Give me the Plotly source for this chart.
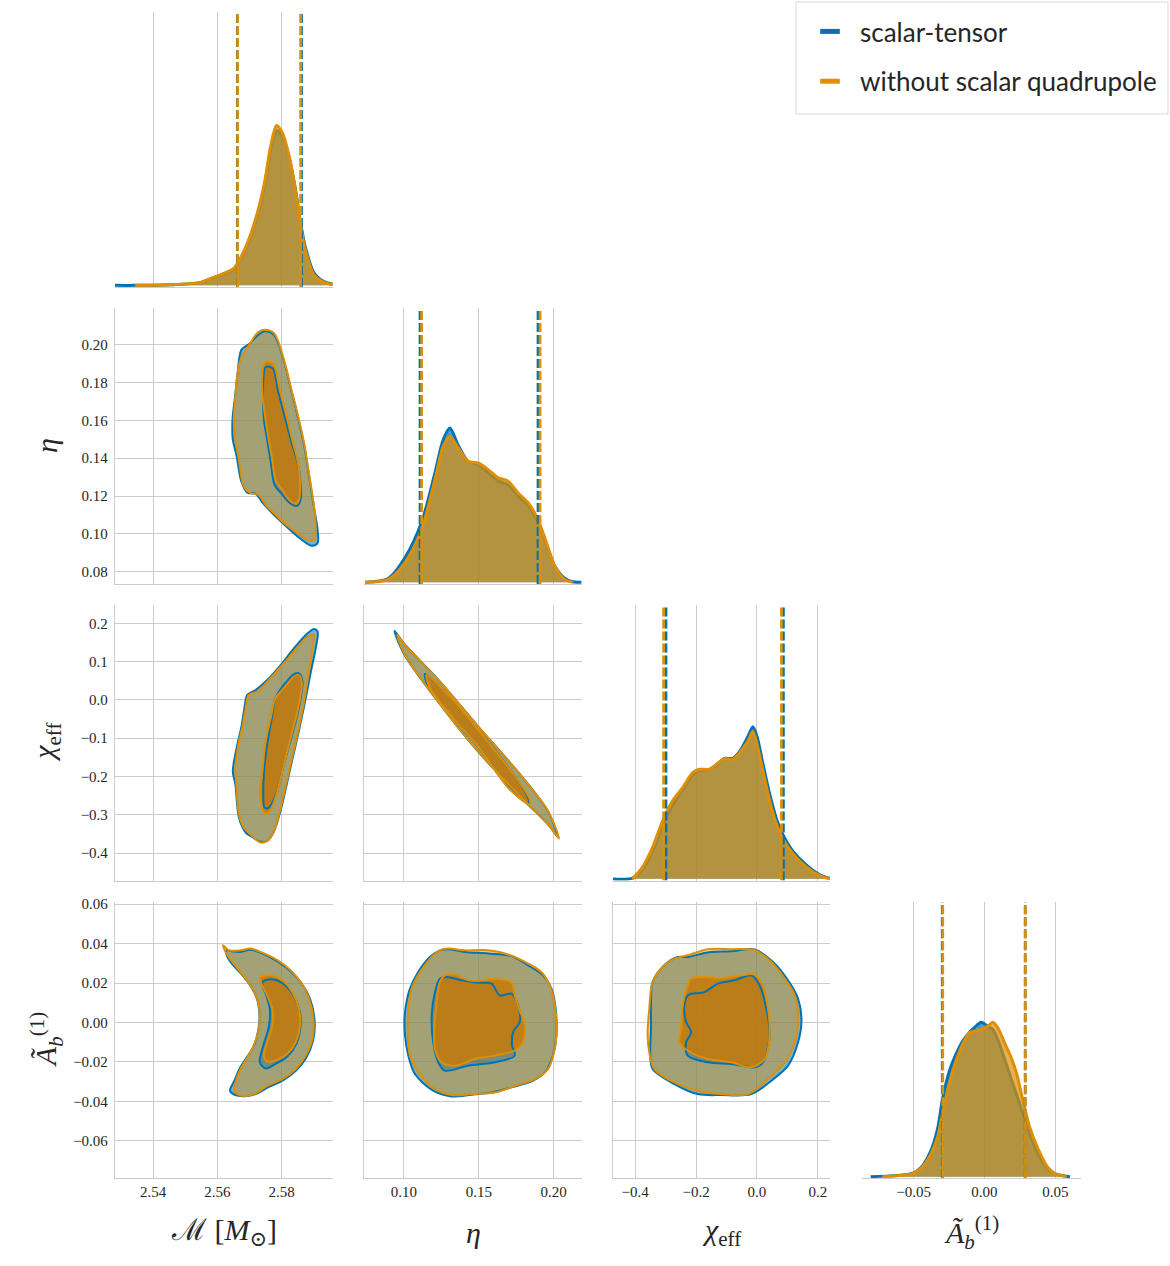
import plotly.graph_objects as go

BLUE = "#0173B2"
ORANGE = "#DE8F05"
SERIES = ["scalar-tensor", "without scalar quadrupole"]

# ---------------- tick labels ----------------
M_ticks = [2.54, 2.56, 2.58]
M_ticktext = ["2.54", "2.56", "2.58"]
eta_ticks_x = [0.10, 0.15, 0.20]
eta_ticktext_x = ["0.10", "0.15", "0.20"]
eta_ticks_y = [0.08, 0.10, 0.12, 0.14, 0.16, 0.18, 0.20]
eta_ticktext_y = ["0.08", "0.10", "0.12", "0.14", "0.16", "0.18", "0.20"]
chi_ticks_x = [-0.4, -0.2, 0.0, 0.2]
chi_ticktext_x = ["\u22120.4", "\u22120.2", "0.0", "0.2"]
chi_ticks_y = [-0.4, -0.3, -0.2, -0.1, 0.0, 0.1, 0.2]
chi_ticktext_y = ["\u22120.4", "\u22120.3", "\u22120.2", "\u22120.1", "0.0", "0.1", "0.2"]
A_ticks_x = [-0.05, 0.0, 0.05]
A_ticktext_x = ["\u22120.05", "0.00", "0.05"]
A_ticks_y = [-0.06, -0.04, -0.02, 0.0, 0.02, 0.04, 0.06]
A_ticktext_y = ["\u22120.06", "\u22120.04", "\u22120.02", "0.00", "0.02", "0.04", "0.06"]

# ---------------- 1D marginal densities (normalised) ----------------
M_x_st = [2.5281, 2.5344, 2.5450, 2.5547, 2.5578, 2.5620, 2.5651, 2.5682, 2.5713, 2.5745, 2.5766,
          2.5784, 2.5802, 2.5823, 2.5844, 2.5859, 2.5875, 2.5901, 2.5932, 2.5960]
M_d_st = [0.000, 0.000, 0.002, 0.010, 0.024, 0.042, 0.060, 0.120, 0.214, 0.355, 0.495,
          0.565, 0.548, 0.470, 0.345, 0.228, 0.135, 0.045, 0.014, 0.004]
M_x_nq = [2.5344, 2.5450, 2.5547, 2.5578, 2.5620, 2.5651, 2.5682, 2.5713, 2.5745, 2.5766,
          2.5784, 2.5802, 2.5823, 2.5844, 2.5859, 2.5875, 2.5901, 2.5932, 2.5960]
M_d_nq = [0.000, 0.002, 0.011, 0.025, 0.044, 0.062, 0.124, 0.219, 0.365, 0.510,
          0.585, 0.559, 0.474, 0.342, 0.219, 0.124, 0.037, 0.011, 0.003]

eta_x_st = [0.0740, 0.0895, 0.1007, 0.1118, 0.1207, 0.1262, 0.1307, 0.1362, 0.1429, 0.1495, 0.1562,
            0.1629, 0.1695, 0.1762, 0.1829, 0.1895, 0.1951, 0.2007, 0.2073, 0.2129, 0.2185]
eta_d_st = [0.000, 0.014, 0.090, 0.220, 0.400, 0.520, 0.563, 0.500, 0.440, 0.430, 0.400,
            0.370, 0.355, 0.315, 0.280, 0.220, 0.140, 0.060, 0.015, 0.002, 0.000]
eta_x_nq = [0.0740, 0.0895, 0.1007, 0.1118, 0.1207, 0.1262, 0.1307, 0.1362, 0.1429, 0.1495, 0.1562,
            0.1629, 0.1695, 0.1762, 0.1829, 0.1895, 0.1951, 0.2007, 0.2073, 0.2129]
eta_d_nq = [0.000, 0.011, 0.072, 0.193, 0.375, 0.496, 0.532, 0.490, 0.441, 0.435, 0.411,
            0.381, 0.369, 0.326, 0.290, 0.229, 0.145, 0.059, 0.011, 0.000]

chi_x_st = [-0.4748, -0.4089, -0.3759, -0.3430, -0.3100, -0.2770, -0.2441, -0.2111, -0.1890, -0.1560,
            -0.1340, -0.1066, -0.0792, -0.0570, -0.0297, -0.0133, 0.0002, 0.0197, 0.0418, 0.0639,
            0.0857, 0.1186, 0.1628, 0.2067, 0.2396]
chi_d_st = [0.000, 0.003, 0.035, 0.100, 0.195, 0.270, 0.325, 0.380, 0.395, 0.400,
            0.415, 0.440, 0.440, 0.465, 0.520, 0.555, 0.520, 0.420, 0.310, 0.220,
            0.160, 0.100, 0.050, 0.015, 0.002]
chi_x_nq = [-0.4089, -0.3759, -0.3430, -0.3100, -0.2770, -0.2441, -0.2111, -0.1890, -0.1560,
            -0.1340, -0.1066, -0.0792, -0.0570, -0.0297, -0.0133, 0.0002, 0.0197, 0.0418, 0.0639,
            0.0857, 0.1186, 0.1628, 0.2067, 0.2396]
chi_d_nq = [0.000, 0.043, 0.115, 0.212, 0.285, 0.333, 0.388, 0.400, 0.400,
            0.418, 0.439, 0.436, 0.461, 0.503, 0.539, 0.491, 0.394, 0.285, 0.200,
            0.145, 0.091, 0.043, 0.012, 0.000]

A_x_st = [-0.0803, -0.0508, -0.0449, -0.0378, -0.0331, -0.0296, -0.0248, -0.0201, -0.0154, -0.0106,
          -0.0071, -0.0023, 0.0023, 0.0059, 0.0094, 0.0142, 0.0189, 0.0225, 0.0272, 0.0319,
          0.0378, 0.0437, 0.0496, 0.0603]
A_d_st = [0.000, 0.012, 0.032, 0.095, 0.174, 0.283, 0.384, 0.446, 0.493, 0.525,
          0.543, 0.562, 0.547, 0.536, 0.500, 0.428, 0.355, 0.301, 0.228, 0.156,
          0.083, 0.036, 0.011, 0.000]
A_x_nq = [-0.0721, -0.0508, -0.0449, -0.0378, -0.0331, -0.0296, -0.0248, -0.0201, -0.0154, -0.0106,
          -0.0071, -0.0023, 0.0023, 0.0059, 0.0094, 0.0142, 0.0189, 0.0225, 0.0272, 0.0319,
          0.0378, 0.0437, 0.0496, 0.0579]
A_d_nq = [0.000, 0.011, 0.029, 0.083, 0.144, 0.228, 0.337, 0.421, 0.482, 0.524,
          0.530, 0.536, 0.548, 0.562, 0.542, 0.487, 0.433, 0.379, 0.276, 0.180,
          0.101, 0.041, 0.011, 0.001]

# 90% credible bounds (dashed lines)
M_q_st = [2.5662, 2.5862]
M_q_nq = [2.5663, 2.5859]
eta_q_st = [0.1107, 0.1895]
eta_q_nq = [0.1118, 0.1909]
chi_q_st = [-0.2988, 0.0870]
chi_q_nq = [-0.3067, 0.0804]
A_q_st = [-0.0298, 0.0287]
A_q_nq = [-0.0294, 0.0289]

# ---------------- 2D credible contours (outer / inner) ----------------
# M vs eta
Meta_out_st_x = [2.5745, 2.5776, 2.5807, 2.5828, 2.5849, 2.5870, 2.5885, 2.5901, 2.5912, 2.5912, 2.5894, 2.5859, 2.5813,
                 2.5776, 2.5741, 2.5719, 2.5694, 2.5675, 2.5659, 2.5648, 2.5647, 2.5655, 2.5663, 2.5675, 2.5700, 2.5724]
Meta_out_st_y = [0.2070, 0.2053, 0.1915, 0.1773, 0.1630, 0.1471, 0.1312, 0.1138, 0.1021, 0.0952, 0.0937, 0.0974, 0.1042,
                 0.1101, 0.1164, 0.1212, 0.1217, 0.1275, 0.1418, 0.1497, 0.1603, 0.1727, 0.1852, 0.1974, 0.2005, 0.2048]
Meta_out_nq_x = [2.5745, 2.5776, 2.5807, 2.5828, 2.5849, 2.5870, 2.5885, 2.5901, 2.5906, 2.5901, 2.5885, 2.5849, 2.5807,
                 2.5776, 2.5750, 2.5729, 2.5703, 2.5682, 2.5667, 2.5656, 2.5651, 2.5656, 2.5663, 2.5672, 2.5703, 2.5724]
Meta_out_nq_y = [0.2079, 0.2062, 0.1921, 0.1779, 0.1639, 0.1480, 0.1321, 0.1144, 0.1039, 0.0968, 0.0965, 0.1004, 0.1057,
                 0.1110, 0.1153, 0.1206, 0.1215, 0.1250, 0.1392, 0.1497, 0.1603, 0.1727, 0.1850, 0.1921, 0.2009, 0.2062]
Meta_in_st_x = [2.5756, 2.5773, 2.5788, 2.5809, 2.5831, 2.5850, 2.5859, 2.5859, 2.5849, 2.5825, 2.5800, 2.5778, 2.5766,
                2.5755, 2.5745, 2.5742, 2.5744, 2.5748]
Meta_in_st_y = [0.1885, 0.1873, 0.1762, 0.1624, 0.1482, 0.1376, 0.1270, 0.1180, 0.1148, 0.1164, 0.1212, 0.1259, 0.1381,
                0.1497, 0.1603, 0.1746, 0.1841, 0.1878]
Meta_in_nq_x = [2.5755, 2.5776, 2.5792, 2.5813, 2.5833, 2.5849, 2.5857, 2.5854, 2.5844, 2.5823, 2.5802, 2.5781, 2.5771,
                2.5760, 2.5750, 2.5740, 2.5740, 2.5745]
Meta_in_nq_y = [0.1912, 0.1894, 0.1779, 0.1639, 0.1497, 0.1392, 0.1286, 0.1180, 0.1159, 0.1180, 0.1233, 0.1286, 0.1392,
                0.1497, 0.1603, 0.1744, 0.1850, 0.1900]

# M vs chi_eff
Mchi_out_st_x = [2.5912, 2.5906, 2.5891, 2.5873, 2.5851, 2.5825, 2.5799, 2.5776, 2.5755, 2.5732, 2.5708, 2.5688, 2.5667,
                 2.5656, 2.5648, 2.5662, 2.5674, 2.5684, 2.5693, 2.5719, 2.5755, 2.5797, 2.5838, 2.5880, 2.5901]
Mchi_out_st_y = [0.1790, 0.1343, 0.0735, -0.0044, -0.0909, -0.1862, -0.2813, -0.3436, -0.3681, -0.3696, -0.3577, -0.3462,
                 -0.3073, -0.2208, -0.1862, -0.1169, -0.0735, -0.0216, 0.0130, 0.0260, 0.0519, 0.0909, 0.1343, 0.1732, 0.1850]
Mchi_out_nq_x = [2.5901, 2.5896, 2.5885, 2.5870, 2.5849, 2.5823, 2.5797, 2.5776, 2.5755, 2.5734, 2.5713, 2.5682, 2.5667,
                 2.5659, 2.5656, 2.5667, 2.5677, 2.5688, 2.5698, 2.5724, 2.5755, 2.5797, 2.5838, 2.5875, 2.5896]
Mchi_out_nq_y = [0.1688, 0.1343, 0.0735, -0.0044, -0.0909, -0.1862, -0.2813, -0.3421, -0.3681, -0.3722, -0.3592, -0.3332,
                 -0.2987, -0.2208, -0.1774, -0.1083, -0.0735, -0.0216, 0.0130, 0.0216, 0.0475, 0.0865, 0.1255, 0.1603, 0.1706]
Mchi_in_st_x = [2.5854, 2.5865, 2.5851, 2.5830, 2.5807, 2.5783, 2.5760, 2.5747, 2.5743, 2.5747, 2.5758, 2.5771, 2.5781,
                2.5807, 2.5838]
Mchi_in_st_y = [0.0693, 0.0475, -0.0304, -0.0995, -0.1688, -0.2468, -0.2813, -0.2813, -0.2382, -0.1688, -0.0995, -0.0390,
                0.0044, 0.0390, 0.0667]
Mchi_in_nq_x = [2.5854, 2.5863, 2.5849, 2.5828, 2.5807, 2.5781, 2.5760, 2.5745, 2.5734, 2.5740, 2.5750, 2.5766, 2.5781,
                2.5807, 2.5838]
Mchi_in_nq_y = [0.0649, 0.0434, -0.0304, -0.0995, -0.1688, -0.2553, -0.2943, -0.2943, -0.2468, -0.1862, -0.1083, -0.0475,
                0.0044, 0.0304, 0.0605]

# eta vs chi_eff
etachi_out_st_x = [0.0937, 0.1007, 0.1229, 0.1495, 0.1785, 0.1962, 0.2025, 0.1962, 0.1785, 0.1495, 0.1229, 0.1000]
etachi_out_st_y = [0.1800, 0.1440, 0.0530, -0.0690, -0.1990, -0.2910, -0.3560, -0.3250, -0.2560, -0.1350, -0.0050, 0.1200]
etachi_out_nq_x = [0.0955, 0.1007, 0.1229, 0.1495, 0.1785, 0.1962, 0.2035, 0.1962, 0.1785, 0.1495, 0.1229, 0.1007]
etachi_out_nq_y = [0.1700, 0.1429, 0.0519, -0.0694, -0.1992, -0.2901, -0.3620, -0.3247, -0.2553, -0.1343, -0.0044, 0.1169]
etachi_in_st_x = [0.1140, 0.1340, 0.1495, 0.1707, 0.1830, 0.1830, 0.1707, 0.1495, 0.1340, 0.1165]
etachi_in_st_y = [0.0680, -0.0040, -0.0770, -0.1810, -0.2570, -0.2700, -0.2330, -0.1220, -0.0530, 0.0320]
etachi_in_nq_x = [0.1151, 0.1340, 0.1495, 0.1707, 0.1840, 0.1840, 0.1707, 0.1495, 0.1340, 0.1173]
etachi_in_nq_y = [0.0649, -0.0052, -0.0779, -0.1818, -0.2597, -0.2727, -0.2338, -0.1213, -0.0519, 0.0312]

# M vs A_b
MA_out_st_x = [2.5628, 2.5647, 2.5672, 2.5703, 2.5734, 2.5787, 2.5828, 2.5861, 2.5889, 2.5903, 2.5898, 2.5877, 2.5845,
               2.5803, 2.5755, 2.5722, 2.5682, 2.5647, 2.5639, 2.5653, 2.5669, 2.5691, 2.5713, 2.5728, 2.5731, 2.5723,
               2.5702, 2.5670, 2.5644, 2.5630]
MA_out_st_y = [0.0366, 0.0361, 0.0358, 0.0369, 0.0354, 0.0310, 0.0260, 0.0201, 0.0117, 0.0002, -0.0092, -0.0178, -0.0244,
               -0.0295, -0.0331, -0.0361, -0.0374, -0.0361, -0.0344, -0.0295, -0.0234, -0.0178, -0.0120, -0.0032, 0.0036,
               0.0121, 0.0188, 0.0254, 0.0300, 0.0336]
MA_out_nq_x = [2.5618, 2.5635, 2.5672, 2.5703, 2.5734, 2.5787, 2.5828, 2.5859, 2.5885, 2.5899, 2.5896, 2.5875, 2.5844,
               2.5802, 2.5755, 2.5724, 2.5693, 2.5662, 2.5651, 2.5656, 2.5672, 2.5693, 2.5713, 2.5729, 2.5732, 2.5724,
               2.5703, 2.5672, 2.5646, 2.5625]
MA_out_nq_y = [0.0392, 0.0366, 0.0366, 0.0375, 0.0358, 0.0316, 0.0265, 0.0205, 0.0121, 0.0019, -0.0083, -0.0168, -0.0236,
               -0.0287, -0.0321, -0.0355, -0.0372, -0.0363, -0.0337, -0.0304, -0.0236, -0.0177, -0.0117, -0.0032, 0.0036,
               0.0121, 0.0188, 0.0256, 0.0307, 0.0358]
MA_in_st_x = [2.5743, 2.5771, 2.5805, 2.5837, 2.5856, 2.5859, 2.5846, 2.5818, 2.5781, 2.5750, 2.5732, 2.5743, 2.5760,
              2.5763, 2.5752, 2.5740]
MA_in_st_y = [0.0209, 0.0219, 0.0197, 0.0137, 0.0061, -0.0015, -0.0108, -0.0172, -0.0210, -0.0233, -0.0202, -0.0117,
              -0.0024, 0.0070, 0.0137, 0.0188]
MA_in_nq_x = [2.5734, 2.5766, 2.5802, 2.5833, 2.5854, 2.5857, 2.5844, 2.5818, 2.5787, 2.5755, 2.5745, 2.5755, 2.5771,
              2.5771, 2.5755, 2.5737]
MA_in_nq_y = [0.0231, 0.0239, 0.0214, 0.0154, 0.0070, -0.0015, -0.0100, -0.0159, -0.0188, -0.0198, -0.0168, -0.0100,
              -0.0015, 0.0070, 0.0137, 0.0197]

# eta vs A_b
etaA_out_st_x = [0.1295, 0.1407, 0.1562, 0.1718, 0.1829, 0.1929, 0.1985, 0.2013, 0.2018, 0.1995, 0.1951, 0.1862, 0.1718,
                 0.1585, 0.1451, 0.1318, 0.1195, 0.1073, 0.1029, 0.1007, 0.1007, 0.1040, 0.1095, 0.1173, 0.1240]
etaA_out_st_y = [0.0372, 0.0358, 0.0350, 0.0337, 0.0290, 0.0239, 0.0172, 0.0070, -0.0066, -0.0168, -0.0244, -0.0295,
                 -0.0329, -0.0355, -0.0366, -0.0375, -0.0346, -0.0261, -0.0168, -0.0066, 0.0052, 0.0172, 0.0256, 0.0332, 0.0366]
etaA_out_nq_x = [0.1295, 0.1407, 0.1562, 0.1695, 0.1829, 0.1918, 0.1973, 0.2007, 0.2018, 0.2002, 0.1962, 0.1873, 0.1740,
                 0.1607, 0.1451, 0.1318, 0.1207, 0.1095, 0.1040, 0.1025, 0.1029, 0.1051, 0.1107, 0.1185, 0.1240]
etaA_out_nq_y = [0.0375, 0.0366, 0.0366, 0.0345, 0.0299, 0.0256, 0.0188, 0.0087, -0.0066, -0.0151, -0.0236, -0.0287,
                 -0.0321, -0.0355, -0.0363, -0.0368, -0.0337, -0.0253, -0.0168, -0.0066, 0.0070, 0.0172, 0.0256, 0.0332, 0.0366]
etaA_in_st_x = [0.1285, 0.1385, 0.1495, 0.1585, 0.1640, 0.1718, 0.1762, 0.1773, 0.1729, 0.1722, 0.1740, 0.1607, 0.1429,
                0.1273, 0.1229, 0.1195, 0.1185, 0.1207, 0.1240]
etaA_in_st_y = [0.0231, 0.0214, 0.0202, 0.0197, 0.0137, 0.0146, 0.0087, 0.0002, -0.0049, -0.0117, -0.0168, -0.0202,
                -0.0219, -0.0244, -0.0202, -0.0100, 0.0036, 0.0154, 0.0222]
etaA_in_nq_x = [0.1273, 0.1340, 0.1429, 0.1518, 0.1607, 0.1718, 0.1740, 0.1773, 0.1807, 0.1795, 0.1740, 0.1607, 0.1473,
                0.1340, 0.1251, 0.1207, 0.1202, 0.1218, 0.1240]
etaA_in_nq_y = [0.0239, 0.0243, 0.0214, 0.0214, 0.0222, 0.0202, 0.0137, 0.0061, -0.0015, -0.0100, -0.0142, -0.0168,
                -0.0185, -0.0219, -0.0202, -0.0134, -0.0032, 0.0103, 0.0205]

# chi_eff vs A_b
chiA_out_st_x = [-0.2276, -0.1616, -0.0845, -0.0077, 0.0527, 0.1021, 0.1351, 0.1463, 0.1351, 0.1021, 0.0474, -0.0185,
                 -0.1174, -0.1946, -0.2714, -0.3430, -0.3505, -0.3482, -0.3482, -0.3430, -0.3044, -0.2605]
chiA_out_st_y = [0.0332, 0.0355, 0.0361, 0.0370, 0.0307, 0.0214, 0.0121, 0.0010, -0.0100, -0.0219, -0.0295, -0.0363,
                 -0.0368, -0.0363, -0.0312, -0.0236, -0.0151, -0.0032, 0.0087, 0.0205, 0.0290, 0.0332]
chiA_out_nq_x = [-0.2276, -0.1616, -0.0845, -0.0077, 0.0474, 0.0913, 0.1242, 0.1351, 0.1242, 0.0913, 0.0362, -0.0297,
                 -0.1174, -0.1946, -0.2714, -0.3374, -0.3538, -0.3594, -0.3538, -0.3430, -0.3044, -0.2714]
chiA_out_nq_y = [0.0341, 0.0372, 0.0372, 0.0366, 0.0307, 0.0222, 0.0137, 0.0019, -0.0100, -0.0202, -0.0287, -0.0363,
                 -0.0363, -0.0346, -0.0304, -0.0236, -0.0151, -0.0066, 0.0070, 0.0205, 0.0290, 0.0324]
chiA_in_st_x = [-0.2164, -0.1725, -0.1287, -0.0736, -0.0185, 0.0088, 0.0309, 0.0418, 0.0197, -0.0077, -0.0845, -0.1616,
                -0.2276, -0.2328, -0.2164, -0.2328, -0.2384, -0.2276]
chiA_in_st_y = [0.0146, 0.0154, 0.0197, 0.0214, 0.0239, 0.0188, 0.0070, -0.0066, -0.0202, -0.0227, -0.0210, -0.0202,
                -0.0168, -0.0100, -0.0049, 0.0002, 0.0087, 0.0137]
chiA_in_nq_x = [-0.2164, -0.1725, -0.1174, -0.0515, -0.0077, 0.0197, 0.0362, 0.0418, 0.0253, -0.0185, -0.0845, -0.1616,
                -0.2276, -0.2549, -0.2493, -0.2441, -0.2276]
chiA_in_nq_y = [0.0222, 0.0231, 0.0225, 0.0239, 0.0243, 0.0188, 0.0070, -0.0066, -0.0185, -0.0227, -0.0202, -0.0185,
                -0.0142, -0.0100, -0.0032, 0.0087, 0.0188]

# ---------------- figure geometry ----------------
W, H = 1170, 1266
col_px = [(115, 333), (364, 582), (613, 830), (862, 1081)]
row_px = [(12, 287), (308, 584), (605, 880.5), (902, 1178.3)]
col_dom = [[a / W, b / W] for a, b in col_px]
row_dom = [[1 - b / H, 1 - a / H] for a, b in row_px]

x_range = [[2.5281, 2.5960], [0.0733, 0.2189], [-0.4730, 0.2400], [-0.0864, 0.0681]]
y_range = [[-0.006, 1.0], [0.0735, 0.2194], [-0.4715, 0.2478], [-0.0790, 0.0611]]
x_ticks = [(M_ticks, M_ticktext), (eta_ticks_x, eta_ticktext_x), (chi_ticks_x, chi_ticktext_x), (A_ticks_x, A_ticktext_x)]
y_ticks = [(None, None), (eta_ticks_y, eta_ticktext_y), (chi_ticks_y, chi_ticktext_y), (A_ticks_y, A_ticktext_y)]

panels = [(r, c) for r in range(4) for c in range(r + 1)]
axis_id = {p: i + 1 for i, p in enumerate(panels)}

fig = go.Figure()


def ax_names(r, c):
    k = axis_id[(r, c)]
    s = "" if k == 1 else str(k)
    return "x" + s, "y" + s


def closed(a):
    return list(a) + [a[0]]


# ---------------- diagonal panels ----------------
diag = [
    (M_x_st, M_d_st, M_x_nq, M_d_nq, M_q_st, M_q_nq),
    (eta_x_st, eta_d_st, eta_x_nq, eta_d_nq, eta_q_st, eta_q_nq),
    (chi_x_st, chi_d_st, chi_x_nq, chi_d_nq, chi_q_st, chi_q_nq),
    (A_x_st, A_d_st, A_x_nq, A_d_nq, A_q_st, A_q_nq),
]
for i, (xs, ds, xn, dn, qs, qn) in enumerate(diag):
    xa, ya = ax_names(i, i)
    fig.add_trace(go.Scatter(x=xs, y=ds, xaxis=xa, yaxis=ya, mode="lines", fill="tozeroy",
                             fillcolor="rgba(1,115,178,0.70)", line=dict(color=BLUE, width=3, shape="spline", smoothing=0.8),
                             showlegend=False, hoverinfo="skip"))
    fig.add_trace(go.Scatter(x=xn, y=dn, xaxis=xa, yaxis=ya, mode="lines", fill="tozeroy",
                             fillcolor="rgba(222,143,5,0.70)", line=dict(color=ORANGE, width=3, shape="spline", smoothing=0.8),
                             showlegend=False, hoverinfo="skip"))
    for q, col in [(qs, BLUE), (qn, ORANGE)]:
        for v in q:
            fig.add_trace(go.Scatter(x=[v, v], y=[y_range[0][0], y_range[0][1]], xaxis=xa, yaxis=ya, mode="lines",
                                     line=dict(color=col, width=2.7, dash="9px,3px"), showlegend=False, hoverinfo="skip"))

# ---------------- 2D panels ----------------
pairs = {
    (1, 0): (Meta_out_st_x, Meta_out_st_y, Meta_in_st_x, Meta_in_st_y, Meta_out_nq_x, Meta_out_nq_y, Meta_in_nq_x, Meta_in_nq_y),
    (2, 0): (Mchi_out_st_x, Mchi_out_st_y, Mchi_in_st_x, Mchi_in_st_y, Mchi_out_nq_x, Mchi_out_nq_y, Mchi_in_nq_x, Mchi_in_nq_y),
    (2, 1): (etachi_out_st_x, etachi_out_st_y, etachi_in_st_x, etachi_in_st_y, etachi_out_nq_x, etachi_out_nq_y, etachi_in_nq_x, etachi_in_nq_y),
    (3, 0): (MA_out_st_x, MA_out_st_y, MA_in_st_x, MA_in_st_y, MA_out_nq_x, MA_out_nq_y, MA_in_nq_x, MA_in_nq_y),
    (3, 1): (etaA_out_st_x, etaA_out_st_y, etaA_in_st_x, etaA_in_st_y, etaA_out_nq_x, etaA_out_nq_y, etaA_in_nq_x, etaA_in_nq_y),
    (3, 2): (chiA_out_st_x, chiA_out_st_y, chiA_in_st_x, chiA_in_st_y, chiA_out_nq_x, chiA_out_nq_y, chiA_in_nq_x, chiA_in_nq_y),
}
fills = ["rgba(1,115,178,0.55)", "rgba(222,143,5,0.45)", "rgba(1,90,150,0.30)", "rgba(200,122,8,0.85)"]
for (r, c), (osx, osy, isx, isy, onx, ony, inx, iny) in pairs.items():
    xa, ya = ax_names(r, c)
    polys = [(osx, osy), (onx, ony), (isx, isy), (inx, iny)]
    for (px, py), fc in zip(polys, fills):
        fig.add_trace(go.Scatter(x=closed(px), y=closed(py), xaxis=xa, yaxis=ya, mode="lines", fill="toself",
                                 fillcolor=fc, line=dict(width=0, shape="spline", smoothing=0.9),
                                 showlegend=False, hoverinfo="skip"))
    for (px, py), col in [((osx, osy), BLUE), ((isx, isy), BLUE), ((onx, ony), ORANGE), ((inx, iny), ORANGE)]:
        fig.add_trace(go.Scatter(x=closed(px), y=closed(py), xaxis=xa, yaxis=ya, mode="lines",
                                 line=dict(color=col, width=2, shape="spline", smoothing=0.9),
                                 showlegend=False, hoverinfo="skip"))

# legend entries
for name, col in zip(SERIES, [BLUE, ORANGE]):
    fig.add_trace(go.Scatter(x=[None], y=[None], mode="markers", name=name, legendgroup=name,
                             marker=dict(symbol="line-ew-open", size=14, color=col, line=dict(color=col, width=5))))

# ---------------- axes ----------------
tickfont = dict(family="Liberation Serif, DejaVu Serif, serif", size=15, color="#262626")
lay = {}
for (r, c) in panels:
    k = axis_id[(r, c)]
    s = "" if k == 1 else str(k)
    xt, xtt = x_ticks[c]
    lay["xaxis" + s] = dict(domain=col_dom[c], range=x_range[c], anchor="y" + s, showgrid=True, gridcolor="#cccccc",
                            gridwidth=1, showline=True, linecolor="#cccccc", linewidth=1.3, zeroline=False, ticks="",
                            tickmode="array", tickvals=xt, ticktext=xtt, showticklabels=(r == 3), tickfont=tickfont,
                            ticklabelstandoff=0)
    if r == c:
        lay["yaxis" + s] = dict(domain=row_dom[r], range=y_range[0], anchor="x" + s, showgrid=False, showline=False,
                                zeroline=False, showticklabels=False, ticks="")
    else:
        yt, ytt = y_ticks[r]
        lay["yaxis" + s] = dict(domain=row_dom[r], range=y_range[r], anchor="x" + s, showgrid=True, gridcolor="#cccccc",
                                gridwidth=1, showline=True, linecolor="#cccccc", linewidth=1.3, zeroline=False, ticks="",
                                tickmode="array", tickvals=yt, ticktext=ytt, showticklabels=(c == 0), tickfont=tickfont,
                                ticklabelstandoff=3)
fig.update_layout(**lay)

labfont = dict(family="Liberation Serif, DejaVu Serif, serif", size=30, color="#262626")
x_labels = ["\u2133 [<i>M</i><sub>\u2299</sub>]", "<i>\u03b7</i>", "<i>\u03c7</i><sub>eff</sub>",
            "<i>\u00c3</i><sub><i>b</i></sub><sup>(1)</sup>"]
y_labels = {1: "<i>\u03b7</i>", 2: "<i>\u03c7</i><sub>eff</sub>", 3: "<i>\u00c3</i><sub><i>b</i></sub><sup>(1)</sup>"}
ann = []
for c, t in enumerate(x_labels):
    ann.append(dict(text=t, x=sum(col_dom[c]) / 2, y=1 - 1232 / H, xref="paper", yref="paper",
                    showarrow=False, font=labfont, xanchor="center", yanchor="middle"))
for r, t in y_labels.items():
    ann.append(dict(text=t, x=46 / W, y=sum(row_dom[r]) / 2, xref="paper", yref="paper", textangle=-90,
                    showarrow=False, font=labfont, xanchor="center", yanchor="middle"))

fig.update_layout(
    width=W, height=H, margin=dict(l=0, r=0, t=0, b=0, autoexpand=False),
    paper_bgcolor="white", plot_bgcolor="white",
    annotations=ann,
    shapes=[dict(type="rect", xref="paper", yref="paper", x0=796 / W, x1=1168 / W, y0=1 - 114 / H, y1=1 - 2 / H,
                 line=dict(color="#d9d9d9", width=1), fillcolor="white", layer="below")],
    legend=dict(x=800 / W, y=1 - 8 / H, xanchor="left", yanchor="top", bgcolor="rgba(0,0,0,0)", borderwidth=0,
                font=dict(family="Lato, Open Sans, sans-serif", size=26, color="#262626"),
                itemwidth=50, tracegroupgap=13, traceorder="grouped"),
)

fig.write_html("out.html")
